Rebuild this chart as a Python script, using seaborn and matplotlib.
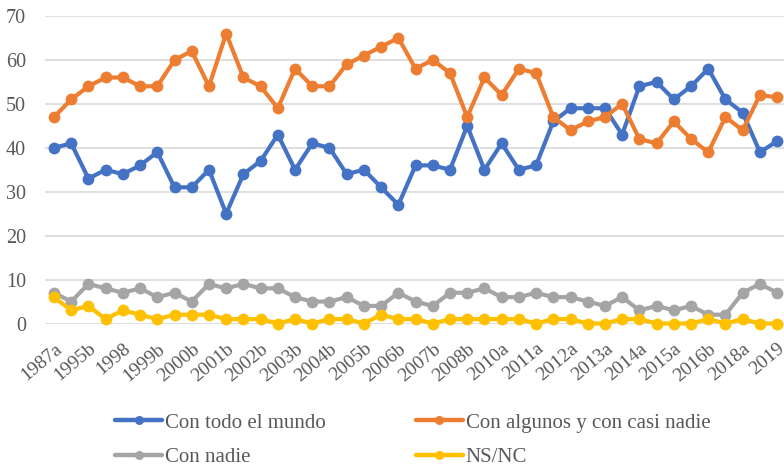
import matplotlib
matplotlib.use("Agg")
import matplotlib.pyplot as plt
import seaborn as sns
import pandas as pd
from matplotlib.lines import Line2D

periods = ["1987a", "1995a", "1995b", "1996", "1998", "1999a", "1999b", "2000a", "2000b",
           "2001a", "2001b", "2002a", "2002b", "2003a", "2003b", "2004a", "2004b", "2005a",
           "2005b", "2006a", "2006b", "2007a", "2007b", "2008a", "2008b", "2009", "2010a",
           "2010b", "2011a", "2011b", "2012a", "2012b", "2013a", "2013b", "2014a", "2014b",
           "2015a", "2015b", "2016b", "2017", "2018a", "2018b", "2019"]

todo_mundo = [40, 41, 33, 35, 34, 36, 39, 31, 31, 35, 25, 34, 37, 43, 35, 41, 40, 34, 35, 31,
              27, 36, 36, 35, 45, 35, 41, 35, 36, 46, 49, 49, 49, 43, 54, 55, 51, 54, 58, 51,
              48, 39, 41.5]
algunos = [47, 51, 54, 56, 56, 54, 54, 60, 62, 54, 66, 56, 54, 49, 58, 54, 54, 59, 61, 63,
           65, 58, 60, 57, 47, 56, 52, 58, 57, 47, 44, 46, 47, 50, 42, 41, 46, 42, 39, 47,
           44, 52, 51.5]
nadie = [7, 5, 9, 8, 7, 8, 6, 7, 5, 9, 8, 9, 8, 8, 6, 5, 5, 6, 4, 4, 7, 5, 4, 7, 7, 8, 6, 6,
         7, 6, 6, 5, 4, 6, 3, 4, 3, 4, 2, 2, 7, 9, 7]
nsnc = [6, 3, 4, 1, 3, 2, 1, 2, 2, 2, 1, 1, 1, 0, 1, 0, 1, 1, 0, 2, 1, 1, 0, 1, 1, 1, 1, 1,
        0, 1, 1, 0, 0, 1, 1, 0, 0, 0, 1, 0, 1, 0, 0]

series_names = ["Con todo el mundo", "Con algunos y con casi nadie", "Con nadie", "NS/NC"]
series_values = [todo_mundo, algunos, nadie, nsnc]
colors = ["#4472C4", "#ED7D31", "#A5A5A5", "#FFC000"]

rows = []
for name, vals in zip(series_names, series_values):
    for i, (p, v) in enumerate(zip(periods, vals)):
        rows.append({"idx": i, "periodo": p, "valor": v, "serie": name})
df = pd.DataFrame(rows)

sns.set_style("white")
plt.rcParams["font.family"] = ["Liberation Serif", "DejaVu Serif"]

fig = plt.figure(figsize=(7.84, 4.69), dpi=100)
ax = fig.add_axes([45.4 / 784, 1 - 323.5 / 469, 1 - 45.4 / 784, (323.5 - 16) / 469])

for name, col in zip(series_names, colors):
    sub = df[df["serie"] == name]
    sns.lineplot(data=sub, x="idx", y="valor", ax=ax, color=col, marker="o",
                 markersize=8.5, markeredgewidth=0, linewidth=3, legend=False,
                 clip_on=False, zorder=3)

ax.set_xlim(-0.5, 42.4)
ax.set_ylim(0, 70)
ax.set_yticks(range(0, 71, 10))
ax.yaxis.grid(True, color="#D9D9D9", linewidth=1.2)
ax.xaxis.grid(False)
ax.set_axisbelow(True)
for s in ax.spines.values():
    s.set_visible(False)

tick_idx = list(range(0, len(periods), 2))
ax.set_xticks(tick_idx)
ax.set_xticklabels([periods[i] for i in tick_idx], rotation=40, ha="right",
                   rotation_mode="anchor", fontsize=14, color="#595959")
ax.tick_params(axis="x", length=0, pad=12)
ax.tick_params(axis="y", length=0, pad=14, labelsize=14.5, labelcolor="#595959")
ax.set_xlabel("")
ax.set_ylabel("")

# column-major fill so rows read: todo / algunos, nadie / NS-NC
order = [0, 2, 1, 3]
handles = [Line2D([0], [0], color=colors[i], linewidth=3.2, marker="o", markersize=6.5,
                  markeredgewidth=0) for i in order]
labels = [series_names[i] for i in order]
fig.legend(handles, labels, loc="upper left", bbox_to_anchor=(115 / 784, 1 - 413 / 469),
           ncol=2, frameon=False, fontsize=15, handlelength=2.26, handletextpad=0.15,
           columnspacing=4.3, labelspacing=0.72, borderpad=0, borderaxespad=0,
           labelcolor="#595959")

fig.savefig("out.png", dpi=100)
